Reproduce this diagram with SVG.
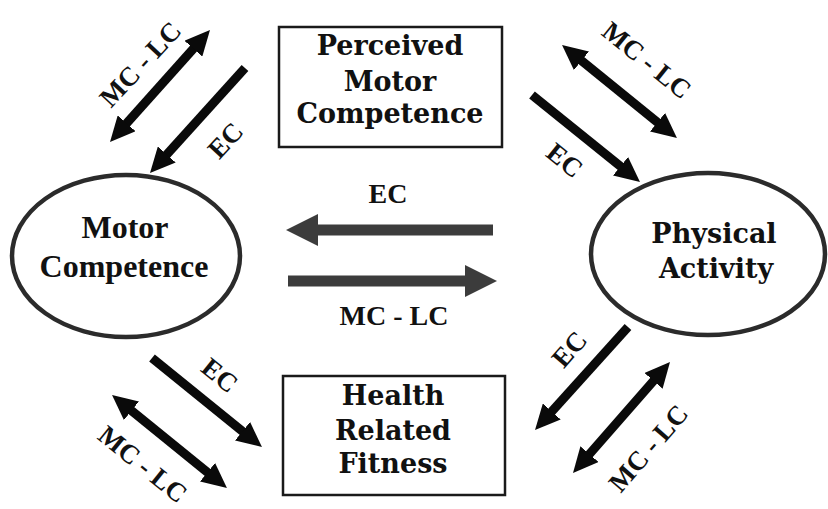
<svg xmlns="http://www.w3.org/2000/svg" width="828" height="509" viewBox="0 0 828 509">
<style>
.bg{fill:#ffffff}
.ell{fill:none;stroke:#2b2b2b;stroke-width:4.5}
.box{fill:none;stroke:#1a1a1a;stroke-width:2.5}
.nt{font-family:"DejaVu Serif","Liberation Serif",serif;font-weight:bold;font-size:27px;fill:#111;text-anchor:middle}
.mt{font-family:"Liberation Serif","DejaVu Serif",serif;font-weight:bold;font-size:32px;fill:#111;text-anchor:middle}
.lb{font-family:"Liberation Serif","DejaVu Serif",serif;font-weight:bold;font-size:27px;fill:#111;text-anchor:middle}
.lm{font-family:"Liberation Serif","DejaVu Serif",serif;font-weight:bold;font-size:28px;fill:#111;text-anchor:middle}
.blk{stroke:#0a0a0a;stroke-width:9;fill:none}
.gry{stroke:#3c3c3c;stroke-width:11;fill:none}
</style>
<defs>
<marker id="hb" viewBox="0 -12 25 24" refX="1" refY="0" markerWidth="25" markerHeight="24" markerUnits="userSpaceOnUse" orient="auto-start-reverse">
<path d="M0,-12 L25,0 L0,12 z" fill="#0a0a0a"/>
</marker>
<marker id="hg" viewBox="0 -16 32 32" refX="1" refY="0" markerWidth="32" markerHeight="32" markerUnits="userSpaceOnUse" orient="auto-start-reverse">
<path d="M0,-16 L32,0 L0,16 z" fill="#3c3c3c"/>
</marker>
</defs>
<rect class="bg" x="0" y="0" width="828" height="509"/>

<g id="connectors">
<line class="blk" x1="194" y1="47.9" x2="126" y2="124.1" marker-start="url(#hb)" marker-end="url(#hb)"/>
<line class="blk" x1="245" y1="68" x2="166.1" y2="155.2" marker-end="url(#hb)"/>
<line class="blk" x1="580.7" y1="60.1" x2="658.3" y2="122.9" marker-start="url(#hb)" marker-end="url(#hb)"/>
<line class="blk" x1="532" y1="95" x2="621.3" y2="166.9" marker-end="url(#hb)"/>
<line class="blk" x1="152" y1="358" x2="243.3" y2="431.9" marker-end="url(#hb)"/>
<line class="blk" x1="130.7" y1="410.1" x2="208.3" y2="472.9" marker-start="url(#hb)" marker-end="url(#hb)"/>
<line class="blk" x1="628" y1="327" x2="551.1" y2="412.2" marker-end="url(#hb)"/>
<line class="blk" x1="654.2" y1="380.1" x2="588.8" y2="454.9" marker-start="url(#hb)" marker-end="url(#hb)"/>
<line class="gry" x1="493" y1="230" x2="317" y2="230" marker-end="url(#hg)"/>
<line class="gry" x1="288" y1="281" x2="466" y2="281" marker-end="url(#hg)"/>

<text class="lb" transform="translate(140,64) rotate(-47)" dy="0.35em">MC - LC</text>
<text class="lb" transform="translate(225,140) rotate(-47)" dy="0.35em">EC</text>
<text class="lb" transform="translate(647,60) rotate(39)" dy="0.35em">MC - LC</text>
<text class="lb" transform="translate(565,160) rotate(39)" dy="0.35em">EC</text>
<text class="lb" transform="translate(220,375) rotate(39)" dy="0.35em">EC</text>
<text class="lb" transform="translate(143,464) rotate(39)" dy="0.35em">MC - LC</text>
<text class="lb" transform="translate(569,349) rotate(-49)" dy="0.35em">EC</text>
<text class="lb" transform="translate(648,448) rotate(-49)" dy="0.35em">MC - LC</text>
<text class="lm" x="388" y="203">EC</text>
<text class="lm" x="394" y="325">MC - LC</text>
</g>

<g id="motor-competence">
<ellipse class="ell" cx="126" cy="256" rx="114" ry="81"/>
<text class="mt" x="125" y="238">Motor</text>
<text class="mt" x="124" y="277">Competence</text>
</g>

<g id="physical-activity">
<ellipse class="ell" cx="708" cy="254" rx="117" ry="81"/>
<text class="nt" x="714" y="243">Physical</text>
<text class="nt" x="716" y="278">Activity</text>
</g>

<g id="perceived-motor-competence">
<rect class="box" x="279" y="27" width="223" height="120"/>
<text class="nt" x="390" y="55">Perceived</text>
<text class="nt" x="390" y="91">Motor</text>
<text class="nt" x="390" y="123">Competence</text>
</g>

<g id="health-related-fitness">
<rect class="box" x="283" y="376" width="222" height="119"/>
<text class="nt" x="393" y="405">Health</text>
<text class="nt" x="393" y="440">Related</text>
<text class="nt" x="393" y="473">Fitness</text>
</g>
</svg>
